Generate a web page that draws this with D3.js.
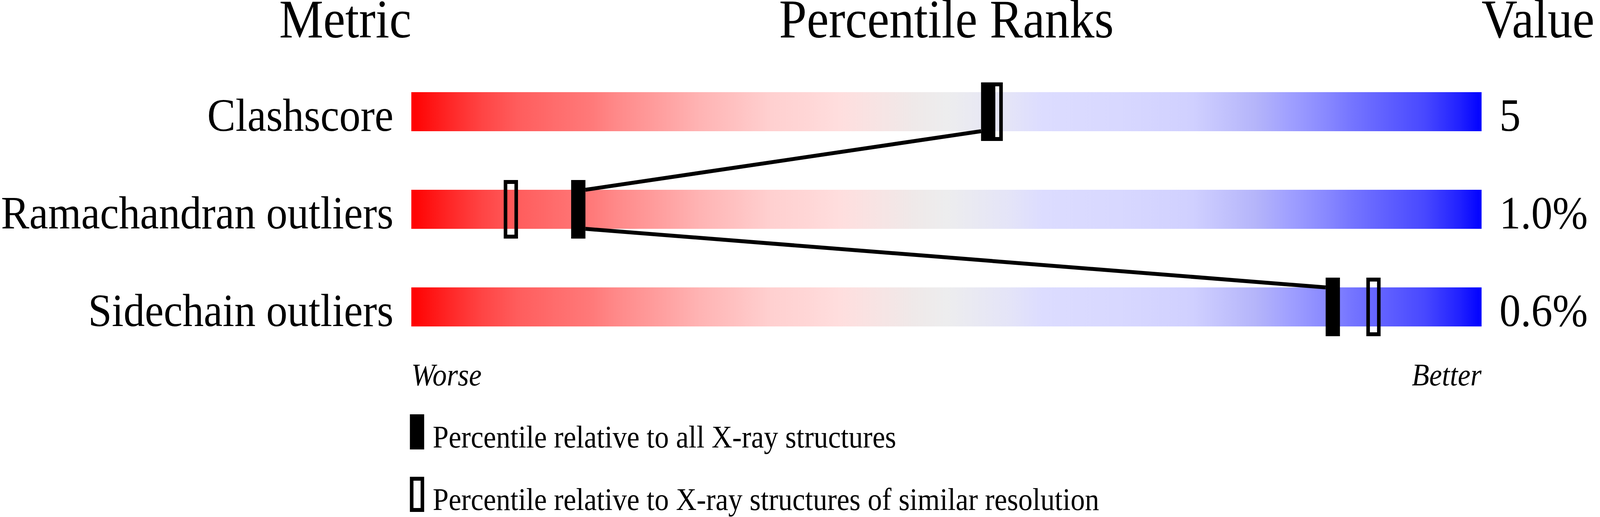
<!DOCTYPE html>
<html>
<head>
<meta charset="utf-8">
<script src="https://cdn.jsdelivr.net/npm/d3@7.9.0/dist/d3.min.js"></script>
<style>
  html, body { margin: 0; padding: 0; background: #fff; overflow: hidden; }
  svg { display: block; width: 100vw; height: 100vh; }
  text { font-family: "Liberation Serif", "Times New Roman", Times, serif; fill: #000; }
</style>
</head>
<body>
<svg id="chart" viewBox="0 0 4485 1324" preserveAspectRatio="none"></svg>
<script>
// values
const metrics = ['Clashscore', 'Ramachandran outliers', 'Sidechain outliers'];
const pctAll = [53.9, 15.6, 86.1];      // percentile vs all X-ray structures (filled marker)
const pctSimilar = [54.6, 9.3, 89.9];   // percentile vs similar resolution (open marker)
const values = ['5', '1.0%', '0.6%'];
const headers = ['Metric', 'Percentile Ranks', 'Value'];
const legendLabels = [
  'Percentile relative to all X-ray structures',
  'Percentile relative to X-ray structures of similar resolution'
];

// gradient of the slider, red (worse) -> grey -> blue (better)
const gradStops = [
  [0, '#ff0000'], [0.034, '#ff2525'], [0.067, '#ff4545'], [0.10, '#ff5d5d'],
  [0.134, '#ff6c6c'], [0.17, '#ff7a7a'], [0.19, '#ff8888'], [0.235, '#ffa0a0'],
  [0.27, '#ffb4b4'], [0.30, '#ffc0c0'], [0.336, '#ffd0d0'], [0.37, '#ffd6d6'],
  [0.40, '#ffdede'], [0.437, '#f7e4e4'], [0.47, '#efe9e9'], [0.50, '#ededee'],
  [0.56, '#e4e4f8'], [0.59, '#dcdcff'], [0.66, '#d8d8ff'], [0.73, '#d0d0ff'],
  [0.79, '#b4b4fa'], [0.82, '#a0a0ff'], [0.85, '#8c8cff'], [0.88, '#7474ff'],
  [0.91, '#6060ff'], [0.947, '#4848ff'], [0.98, '#2020ff'], [1, '#0000ff']
];

const svg = d3.select('#chart');

const x = d3.scaleLinear().domain([0, 100]).range([1153, 4153]);
const y = d3.scalePoint().domain(metrics).range([286, 786]);

const barH = 100;
const markW = 40, markH = 150;

const grad = svg.append('defs').append('linearGradient')
  .attr('id', 'slider')
  .attr('x1', '0%').attr('x2', '100%').attr('y1', '0%').attr('y2', '0%');
grad.selectAll('stop')
  .data(gradStops)
  .join('stop')
  .attr('offset', d => d[0])
  .attr('stop-color', d => d[1]);

// headers
svg.selectAll('text.header')
  .data(headers)
  .join('text')
  .attr('class', 'header')
  .attr('x', (d, i) => [x(0), (x(0) + x(100)) / 2, x(100)][i])
  .attr('y', 96)
  .attr('text-anchor', (d, i) => ['end', 'middle', 'start'][i])
  .attr('font-size', 139)
  .text(d => d);

// bars
svg.selectAll('rect.bar')
  .data(metrics)
  .join('rect')
  .attr('class', 'bar')
  .attr('x', x(0))
  .attr('y', d => y(d) - barH / 2)
  .attr('width', x(100) - x(0))
  .attr('height', barH)
  .attr('fill', 'url(#slider)');

// metric names and values
svg.selectAll('text.label')
  .data(metrics)
  .join('text')
  .attr('class', 'label')
  .attr('x', x(0) - 50)
  .attr('y', d => y(d) + 49)
  .attr('text-anchor', 'end')
  .attr('font-size', 119)
  .text(d => d);

svg.selectAll('text.value')
  .data(values)
  .join('text')
  .attr('class', 'value')
  .attr('x', x(100) + 50)
  .attr('y', (d, i) => y(metrics[i]) + 49)
  .attr('font-size', 119)
  .text(d => d);

// connector between filled markers of consecutive rows
const links = d3.pairs(metrics.map((m, i) => ({ m, p: pctAll[i] })));
svg.selectAll('line.link')
  .data(links)
  .join('line')
  .attr('class', 'link')
  .attr('x1', ([a, b]) => x(a.p) + (a.p > b.p ? -markW / 2 : markW / 2))
  .attr('y1', ([a]) => y(a.m) + barH / 2)
  .attr('x2', ([a, b]) => x(b.p) + (a.p > b.p ? markW / 2 : -markW / 2))
  .attr('y2', ([, b]) => y(b.m) - barH / 2)
  .attr('stroke', '#000')
  .attr('stroke-width', 10);

// open markers (similar resolution), then filled ones on top
svg.selectAll('rect.open')
  .data(pctSimilar)
  .join('rect')
  .attr('class', 'open')
  .attr('x', d => x(d) - markW / 2 + 5)
  .attr('y', (d, i) => y(metrics[i]) - markH / 2 + 5)
  .attr('width', markW - 10)
  .attr('height', markH - 10)
  .attr('fill', 'none')
  .attr('stroke', '#000')
  .attr('stroke-width', 10);

svg.selectAll('rect.filled')
  .data(pctAll)
  .join('rect')
  .attr('class', 'filled')
  .attr('x', d => x(d) - markW / 2)
  .attr('y', (d, i) => y(metrics[i]) - markH / 2)
  .attr('width', markW)
  .attr('height', markH)
  .attr('fill', '#000');

// worse / better
svg.append('text')
  .attr('x', x(0)).attr('y', 987)
  .attr('font-size', 80).attr('font-style', 'italic')
  .text('Worse');
svg.append('text')
  .attr('x', x(100)).attr('y', 987)
  .attr('text-anchor', 'end')
  .attr('font-size', 80).attr('font-style', 'italic')
  .text('Better');

// legend
const legend = svg.selectAll('g.legend')
  .data(legendLabels)
  .join('g')
  .attr('class', 'legend')
  .attr('transform', (d, i) => `translate(0, ${1106 + i * 160})`);

legend.append('rect')
  .attr('x', (d, i) => i === 0 ? 1149 : 1154)
  .attr('y', (d, i) => i === 0 ? -45 : -40)
  .attr('width', (d, i) => i === 0 ? 40 : 30)
  .attr('height', (d, i) => i === 0 ? 90 : 80)
  .attr('fill', (d, i) => i === 0 ? '#000' : 'none')
  .attr('stroke', (d, i) => i === 0 ? 'none' : '#000')
  .attr('stroke-width', 10);

legend.append('text')
  .attr('x', 1213)
  .attr('y', 40)
  .attr('font-size', 80)
  .text(d => d);
</script>
</body>
</html>
